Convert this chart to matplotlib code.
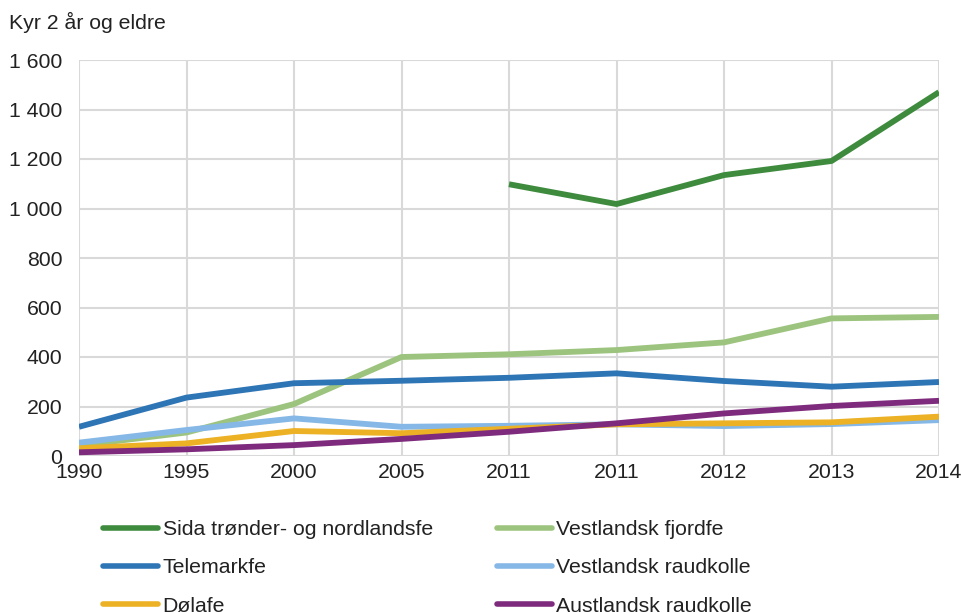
import matplotlib.pyplot as plt
import numpy as np

plt.rcParams['font.family'] = ['Liberation Sans', 'DejaVu Sans']

# Data
years = ["1990", "1995", "2000", "2005", "2011", "2011", "2012", "2013", "2014"]
sida = [None, None, None, None, 1098, 1018, 1135, 1192, 1470]
vestl_fjord = [42, 95, 210, 400, 411, 428, 459, 556, 562]
telemark = [118, 236, 294, 304, 316, 334, 303, 280, 299]
vestl_raud = [54, 105, 152, 118, 122, 128, 121, 129, 145]
dola = [31, 51, 101, 92, 110, 128, 132, 136, 159]
austl_raud = [15, 27, 44, 69, 98, 132, 172, 202, 223]

series = [
    ("Sida trønder- og nordlandsfe", sida, "#3E8B3E"),
    ("Vestlandsk fjordfe", vestl_fjord, "#9DC47F"),
    ("Telemarkfe", telemark, "#2E75B6"),
    ("Vestlandsk raudkolle", vestl_raud, "#85B8E6"),
    ("Dølafe", dola, "#ECB124"),
    ("Austlandsk raudkolle", austl_raud, "#7E2B7D"),
]
fs = 15.3

fig = plt.figure(figsize=(9.62, 6.12), dpi=100)
ax = fig.add_axes([79 / 962, 1 - 456 / 612, (939 - 79) / 962, (456 - 60) / 612])

x = np.arange(len(years))
lines = {}
for name, vals, col in series:
    y = np.array([np.nan if v is None else v for v in vals], dtype=float)
    ln, = ax.plot(x, y, color=col, lw=4.2, solid_capstyle='butt', label=name)
    lines[name] = ln

ax.set_xlim(0, len(years) - 1)
ax.set_ylim(0, 1600)
ax.set_xticks(x)
ax.set_xticklabels(years)
ax.set_yticks(np.arange(0, 1601, 200))
ax.set_yticklabels([f"{v:,}".replace(",", " ") for v in range(0, 1601, 200)])
ax.tick_params(length=0, labelsize=fs, colors="#222222")
ax.tick_params(axis='x', pad=5)
ax.tick_params(axis='y', pad=12)
ax.grid(True, color="#D9D9D9", lw=1.5)
ax.set_axisbelow(True)
for s in ax.spines.values():
    s.set_visible(False)

fig.text(9 / 962, 1 - 22 / 612, "Kyr 2 år og eldre", fontsize=fs, color="#222222", va="center")

order = ["Sida trønder- og nordlandsfe", "Telemarkfe", "Dølafe",
         "Vestlandsk fjordfe", "Vestlandsk raudkolle", "Austlandsk raudkolle"]
leg = fig.legend([lines[n] for n in order], order, ncol=2, loc="upper left",
                 bbox_to_anchor=(84 / 962, 1 - 501 / 612), frameon=False,
                 fontsize=fs, handlelength=2.6, handletextpad=0.2,
                 columnspacing=3.0, labelspacing=0.91)
for t in leg.get_texts():
    t.set_color("#222222")
for h in leg.get_lines():
    h.set_linewidth(4)
    h.set_solid_capstyle('round')

fig.savefig("out.png", dpi=100)
